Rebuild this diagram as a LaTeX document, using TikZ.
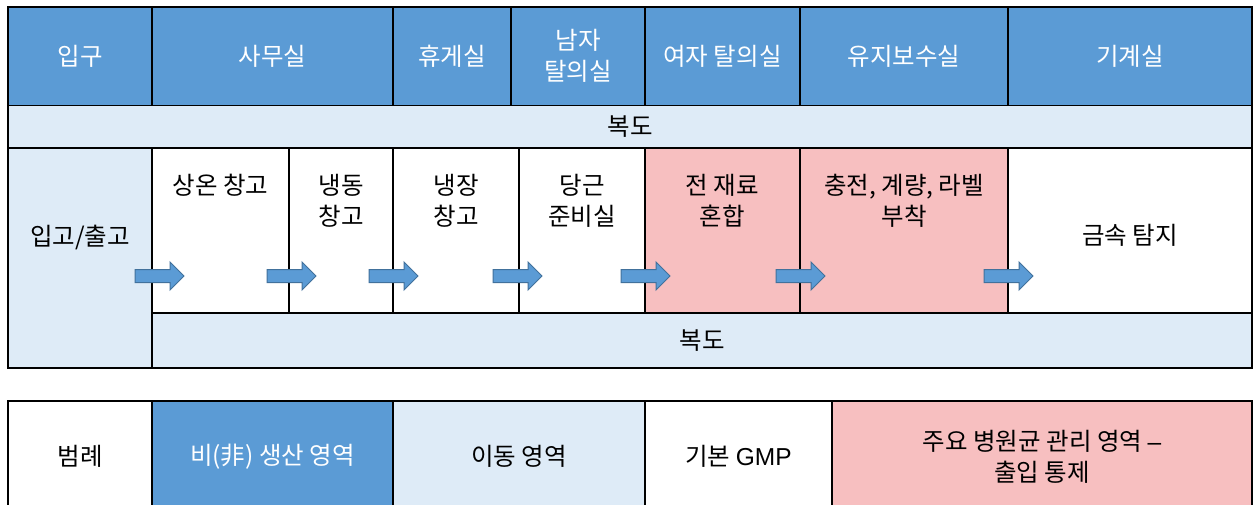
\documentclass[tikz,border=0pt]{standalone}
\usepackage{fontspec}
\setmainfont{Noto Sans CJK KR}
\newfontfamily\latinfont{Liberation Sans}
\definecolor{zblue}{HTML}{5B9BD5}
\definecolor{zlight}{HTML}{DEEBF7}
\definecolor{zpink}{HTML}{F7BFC0}
\definecolor{zarrow}{HTML}{41719C}
\begin{document}
\begin{tikzpicture}[x=1pt,y=-1pt,
  cell/.style={draw=black, line width=1.5pt, inner sep=0pt, outer sep=0pt, font=\fontsize{24.5}{31}\selectfont, align=center},
  topcell/.style={cell, fill=zblue, text=white, minimum height=98.5pt},
  midcell/.style={cell, minimum height=165pt},
  legcell/.style={cell, minimum height=111pt},
  lbl/.style={font=\fontsize{24.5}{31}\selectfont, align=center, inner sep=0pt},
  flowarrow/.pic={\draw[fill=zblue, draw=zarrow, line width=1pt] (0,-6.5) -- (35,-6.5) -- (35,-14) -- (49,0) -- (35,14) -- (35,6.5) -- (0,6.5) -- cycle;}]
\useasboundingbox (0,0) rectangle (1253,504);
\clip (0,0) rectangle (1253,504);
\fill[white] (0,0) rectangle (1253,504);
% top row
\node[topcell, minimum width=144pt] (entry) at (80,56.25) {입구};
\node[topcell, minimum width=241pt] (office) at (272.5,56.25) {사무실};
\node[topcell, minimum width=118pt] (lounge) at (452,56.25) {휴게실};
\node[topcell, minimum width=134pt] (mlocker) at (578,56.25) {남자\\탈의실};
\node[topcell, minimum width=155pt] (flocker) at (722.5,56.25) {여자 탈의실};
\node[topcell, minimum width=208pt] (maint) at (904,56.25) {유지보수실};
\node[topcell, minimum width=244pt] (mech) at (1130,56.25) {기계실};
% corridor 1
\node[cell, fill=zlight, minimum width=1244pt, minimum height=42.5pt] (corr1) at (630,126.75) {복도};
% middle row
\node[cell, fill=zlight, minimum width=144pt, minimum height=220pt] (dock) at (80,258) {};
\node[lbl] (tdock) at (80,237) {입고/출고};
\node[midcell, fill=white, minimum width=137pt] (ambient) at (220.5,230.5) {};
\node[midcell, fill=white, minimum width=104pt] (freezer) at (341,230.5) {};
\node[midcell, fill=white, minimum width=126pt] (cooler) at (456,230.5) {};
\node[midcell, fill=white, minimum width=126pt] (carrot) at (582,230.5) {};
\node[midcell, fill=zpink, minimum width=155pt] (mix) at (722.5,230.5) {};
\node[midcell, fill=zpink, minimum width=208pt] (fill) at (904,230.5) {};
\node[midcell, fill=white, minimum width=244pt] (metal) at (1130,230.5) {};
\node[lbl] (tambient) at (220.5,185) {상온 창고};
\node[lbl] (tfreezer) at (341,200.5) {냉동\\창고};
\node[lbl] (tcooler) at (456,200.5) {냉장\\창고};
\node[lbl] (tcarrot) at (582,200.5) {당근\\준비실};
\node[lbl] (tmix) at (722.5,200.5) {전 재료\\혼합};
\node[lbl] (tfill) at (904,200.5) {충전, 계량, 라벨\\부착};
\node[lbl] (tmetal) at (1130,235) {금속 탐지};
% corridor 2
\node[cell, fill=zlight, minimum width=1100pt, minimum height=55pt] (corr2) at (702,340.5) {복도};
% arrows
\pic at (135,276) {flowarrow};
\pic at (267,276) {flowarrow};
\pic at (369,276) {flowarrow};
\pic at (493,276) {flowarrow};
\pic at (621,276) {flowarrow};
\pic at (776,276) {flowarrow};
\pic at (984,276) {flowarrow};
% legend
\node[legcell, fill=white, minimum width=144pt] (legend) at (80,456.5) {범례};
\node[legcell, fill=zblue, text=white, minimum width=241pt] (lnonprod) at (272.5,456.5) {비(非) 생산 영역};
\node[legcell, fill=zlight, minimum width=252pt] (lmove) at (519,456.5) {이동 영역};
\node[legcell, fill=white, minimum width=187pt] (lgmp) at (738.5,456.5) {기본 {\latinfont GMP}};
\node[legcell, fill=zpink, minimum width=420pt] (lcontrol) at (1042,456.5) {주요 병원균 관리 영역 {\latinfont –}\\출입 통제};
\end{tikzpicture}
\end{document}
